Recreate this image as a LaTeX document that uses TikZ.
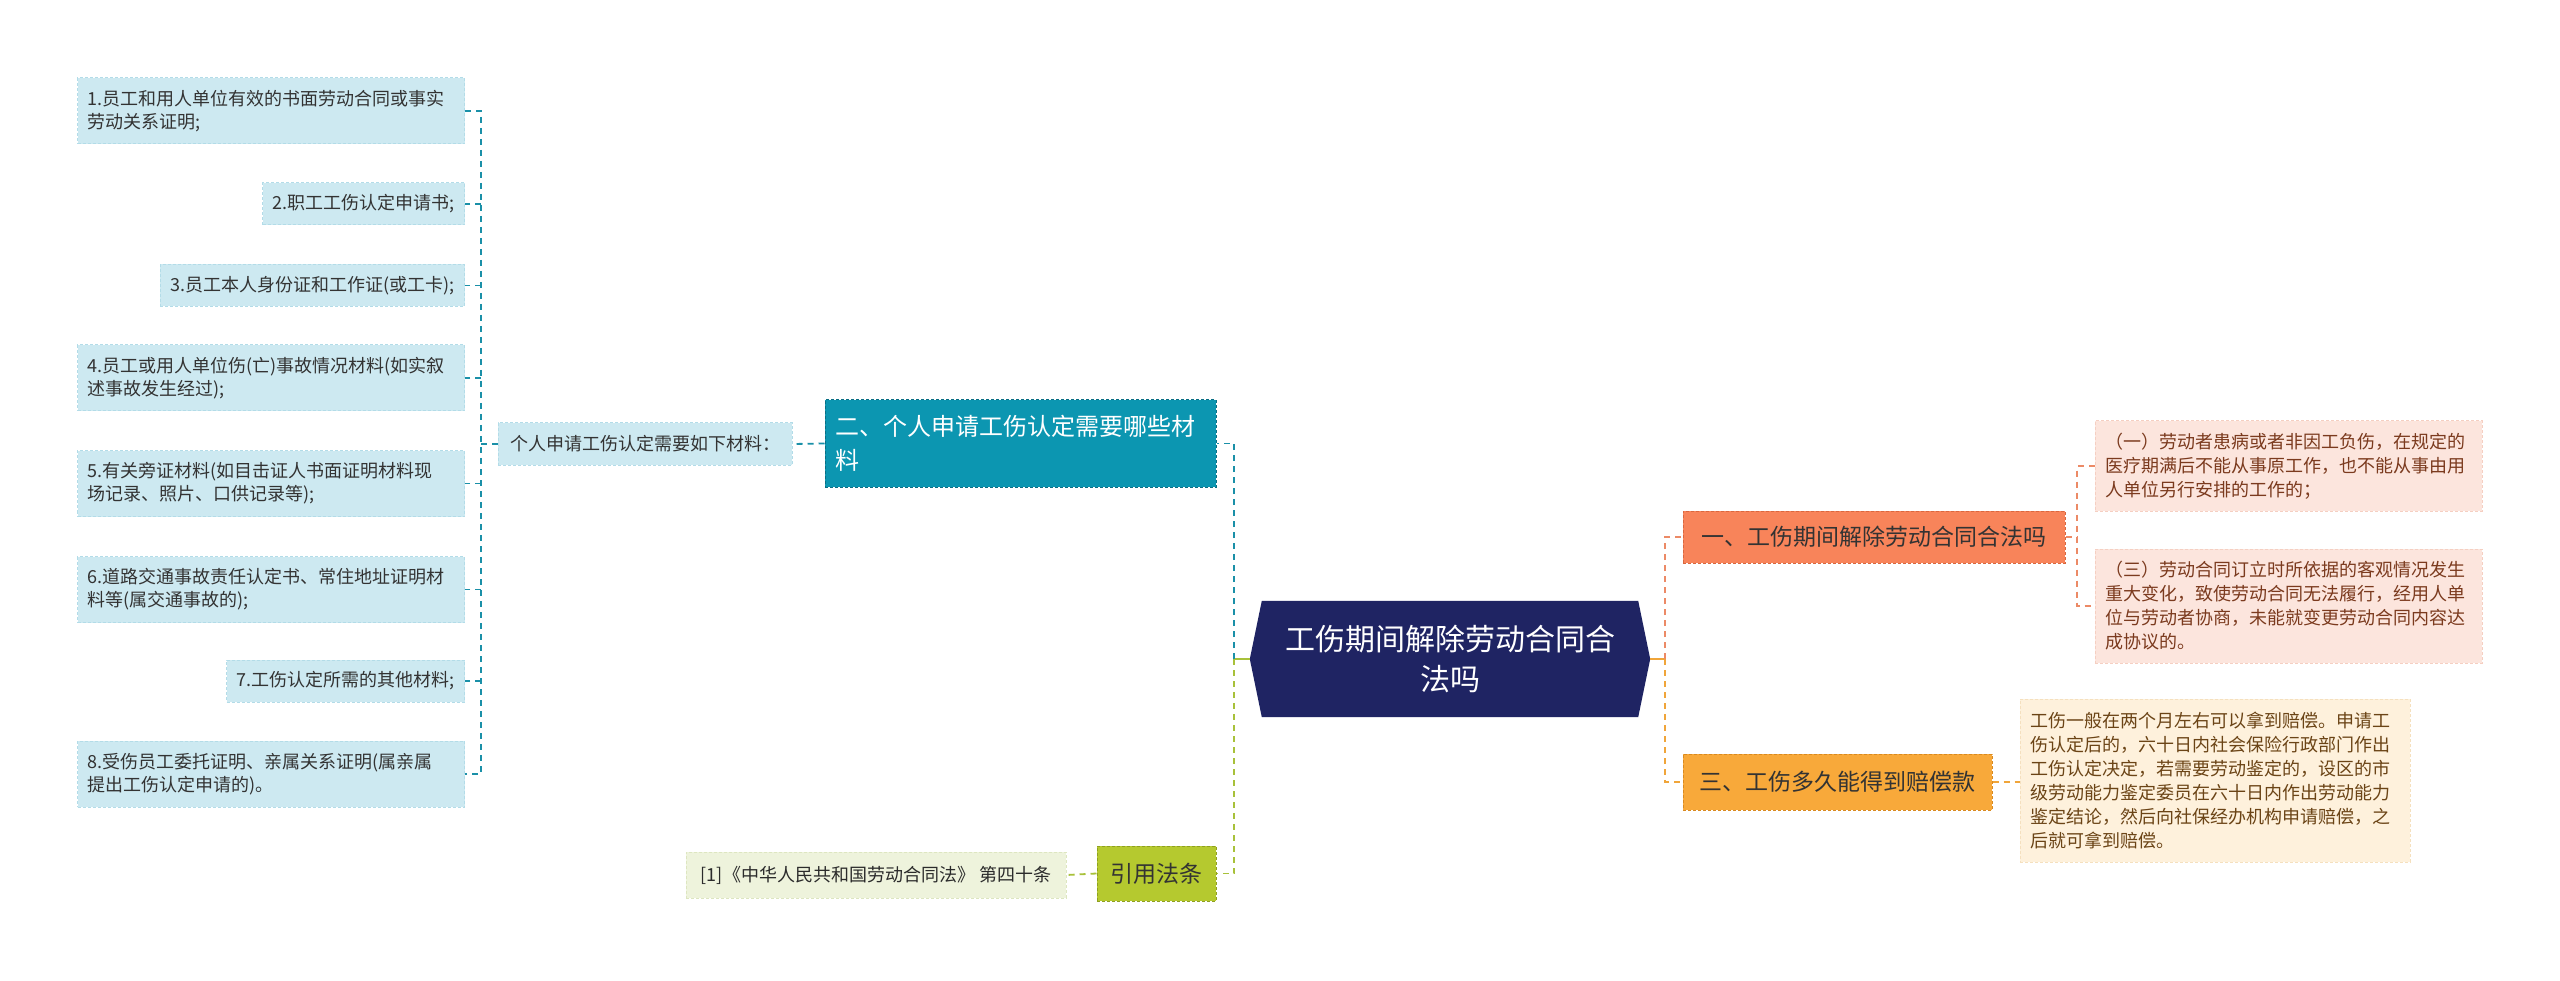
\documentclass[tikz,border=0pt]{standalone}
\usepackage{fontspec}
\setmainfont{Noto Sans CJK SC}
\usetikzlibrary{backgrounds}
\definecolor{navy}{HTML}{1F2463}
\definecolor{tealbox}{HTML}{0C96B1}
\definecolor{tealdraw}{HTML}{0A6F85}
\definecolor{tealline}{HTML}{1A90A8}
\definecolor{lbfill}{HTML}{CDE9F1}
\definecolor{lbdraw}{HTML}{B3DCE8}
\definecolor{coral}{HTML}{F8845A}
\definecolor{coraldraw}{HTML}{D9673F}
\definecolor{salmon}{HTML}{EC8A66}
\definecolor{pinkfill}{HTML}{FCE5DD}
\definecolor{pinkdraw}{HTML}{F5CFC2}
\definecolor{pinktext}{HTML}{7B3A1E}
\definecolor{orbox}{HTML}{F8A93A}
\definecolor{ordraw}{HTML}{D98A20}
\definecolor{orline}{HTML}{F0A53A}
\definecolor{creamfill}{HTML}{FEF1DC}
\definecolor{creamdraw}{HTML}{F5E0BE}
\definecolor{creamtext}{HTML}{6B4416}
\definecolor{ygbox}{HTML}{B5C92F}
\definecolor{ygdraw}{HTML}{8FA020}
\definecolor{ygline}{HTML}{A8C13A}
\definecolor{citefill}{HTML}{EEF3DC}
\definecolor{citedraw}{HTML}{DDE6C0}
\definecolor{txt}{HTML}{333333}
\begin{document}
\begin{tikzpicture}[x=1pt,y=-1pt,
  conn/.style={dash pattern=on 6pt off 5pt, line width=1.8pt},
  box/.style={inner xsep=10pt, inner ysep=3pt, line width=1pt, dash pattern=on 3pt off 2pt},
  leafL/.style={box, fill=lbfill, draw=lbdraw, text=txt, font=\fontsize{18}{23}\selectfont, align=left, anchor=east},
  leafR/.style={box, fill=pinkfill, draw=pinkdraw, text=pinktext, font=\fontsize{18}{24}\selectfont, align=left, text width=367pt},
  branch/.style={box, font=\fontsize{23}{34}\selectfont, align=left}
]
\useasboundingbox (0,0) rectangle (2560,981);

% root
\node[minimum width=400pt, minimum height=116pt, text=white, font=\fontsize{30}{40}\selectfont, align=center] (root) at (1450,659) {工伤期间解除劳动合同合\\法吗};
\begin{scope}[on background layer]
\fill[white] (0,0) rectangle (2560,981);
\fill[navy] ([xshift=12pt]root.north west) -- ([xshift=-12pt]root.north east) -- (root.east) -- ([xshift=-12pt]root.south east) -- ([xshift=12pt]root.south west) -- (root.west) -- cycle;
\end{scope}

% left branch
\node[branch, fill=tealbox, draw=tealdraw, text=white, font=\fontsize{24}{34}\selectfont, text width=371pt, minimum height=87pt] (n2) at (1020.5,443.5) {二、个人申请工伤认定需要哪些材\\料};
\node[box, fill=lbfill, draw=lbdraw, text=txt, font=\fontsize{18}{23}\selectfont, minimum width=294pt, minimum height=42pt] (hub) at (645,444) {个人申请工伤认定需要如下材料：};

\node[leafL, text width=367pt, minimum height=66pt] (L1) at (465,111) {1.员工和用人单位有效的书面劳动合同或事实\\劳动关系证明;};
\node[leafL, minimum height=42pt] (L2) at (465,204) {2.职工工伤认定申请书;};
\node[leafL, minimum height=42pt] (L3) at (465,285.5) {3.员工本人身份证和工作证(或工卡);};
\node[leafL, text width=367pt, minimum height=66pt] (L4) at (465,378) {4.员工或用人单位伤(亡)事故情况材料(如实叙\\述事故发生经过);};
\node[leafL, text width=367pt, minimum height=66pt] (L5) at (465,483.5) {5.有关旁证材料(如目击证人书面证明材料现\\场记录、照片、口供记录等);};
\node[leafL, text width=367pt, minimum height=66pt] (L6) at (465,589.5) {6.道路交通事故责任认定书、常住地址证明材\\料等(属交通事故的);};
\node[leafL, minimum height=42pt] (L7) at (465,681) {7.工伤认定所需的其他材料;};
\node[leafL, text width=367pt, minimum height=66pt] (L8) at (465,774) {8.受伤员工委托证明、亲属关系证明(属亲属\\提出工伤认定申请的)。};

% citation branch
\node[box, fill=ygbox, draw=ygdraw, text=txt, font=\fontsize{23}{30}\selectfont, minimum width=119pt, minimum height=55pt] (yy) at (1156.5,873.5) {引用法条};
\node[box, fill=citefill, draw=citedraw, text=txt!85!black, font=\fontsize{18}{23}\selectfont, minimum width=380pt, minimum height=46pt] (cite) at (876,875) {[1]《中华人民共和国劳动合同法》 第四十条};

% right branches
\node[branch, fill=coral, draw=coraldraw, text=txt, minimum width=382pt, minimum height=52pt] (n1) at (1874,537) {一、工伤期间解除劳动合同合法吗};
\node[branch, fill=orbox, draw=ordraw, text=txt, minimum width=309pt, minimum height=56pt] (n3) at (1837.5,782) {三、工伤多久能得到赔偿款};

\node[leafR, minimum height=90pt] (R1) at (2288.5,466) {（一）劳动者患病或者非因工负伤，在规定的\\医疗期满后不能从事原工作，也不能从事由用\\人单位另行安排的工作的；};
\node[leafR, minimum height=114pt] (R2) at (2288.5,606) {（三）劳动合同订立时所依据的客观情况发生\\重大变化，致使劳动合同无法履行，经用人单\\位与劳动者协商，未能就变更劳动合同内容达\\成协议的。};
\node[leafR, fill=creamfill, draw=creamdraw, text=creamtext, text width=370pt, minimum height=163pt] (R3) at (2215,780.5) {工伤一般在两个月左右可以拿到赔偿。申请工\\伤认定后的，六十日内社会保险行政部门作出\\工伤认定决定，若需要劳动鉴定的，设区的市\\级劳动能力鉴定委员在六十日内作出劳动能力\\鉴定结论，然后向社保经办机构申请赔偿，之\\后就可拿到赔偿。};

% connectors left tree
\coordinate (lj) at (481,444);
\draw[conn, tealline] (hub.west) -- (lj);
\draw[conn, tealline] (L1.east) -- (lj |- L1.east) -- (lj |- L8.east) -- (L8.east);
\foreach \n in {L2,L3,L4,L5,L6,L7}
  \draw[conn, tealline] (lj |- \n.east) -- (\n.east);
\draw[conn, tealline] (n2.west) -- (hub.east);

% root left
\coordinate (cj) at (1234,659);
\draw[line width=1.8pt, ygline] (root.west) -- (cj);
\draw[conn, tealline] (cj) |- (n2.east);
\draw[conn, ygline] (cj) |- (yy.east);
\draw[conn, ygline] (yy.west) -- (cite.east);

% root right
\coordinate (rj) at (1665,659);
\draw[line width=1.8pt, orline] (root.east) -- (rj);
\draw[conn, salmon] (rj) |- (n1.west);
\draw[conn, orline] (rj) |- (n3.west);
\coordinate (r1j) at (2077,537);
\draw[conn, salmon] (n1.east) -- (r1j);
\draw[conn, salmon] (R1.west) -- (r1j |- R1.west) -- (r1j |- R2.west) -- (R2.west);
\draw[conn, orline] (n3.east) -- (n3.east -| R3.west);
\end{tikzpicture}
\end{document}
